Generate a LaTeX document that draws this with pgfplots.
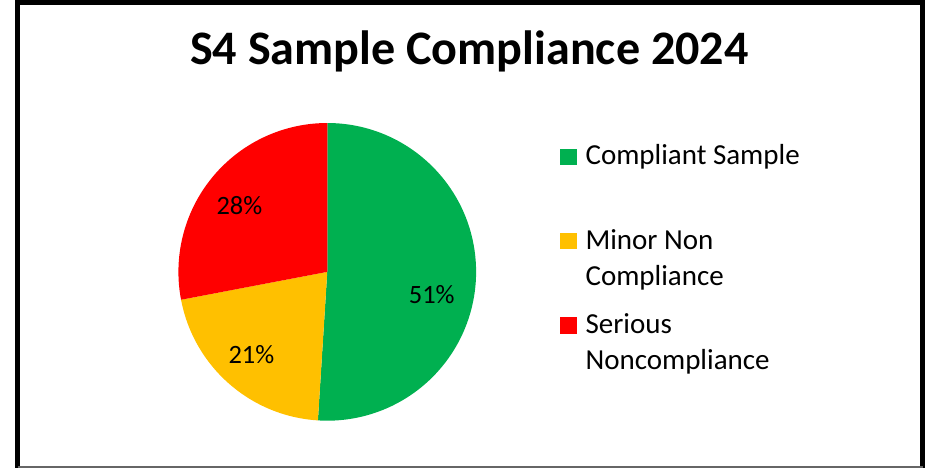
\documentclass[border=0pt]{standalone}
\usepackage{pgfplots}
\usepackage{pgfplotstable}
\pgfplotsset{compat=1.18}
\usepackage{fontspec}
\setmainfont{Carlito}
\definecolor{cgreen}{HTML}{00B050}
\definecolor{cyellow}{HTML}{FFC000}
\definecolor{cred}{HTML}{FF0000}
\pgfplotstableread{
label value
Compliant 51
Minor 21
Serious 28
}\piedata
\begin{document}
\pgfplotstablegetelem{0}{value}\of\piedata\let\va\pgfplotsretval
\pgfplotstablegetelem{1}{value}\of\piedata\let\vb\pgfplotsretval
\pgfplotstablegetelem{2}{value}\of\piedata\let\vc\pgfplotsretval
\pgfmathsetmacro\aA{90}
\pgfmathsetmacro\aB{90-3.6*\va}
\pgfmathsetmacro\aC{\aB-3.6*\vb}
\pgfmathsetmacro\aD{\aC-3.6*\vc}
\def\R{111.4pt}
\begin{tikzpicture}
\begin{axis}[scale only axis, width=693.75pt, height=352.5pt,
  xmin=0, xmax=925, ymin=-470, ymax=0, hide axis, clip=false]
% pie
\fill[cgreen] (axis cs:326.5,-273.5) -- ++(\aA:\R) arc[start angle=\aA, end angle=\aB, radius=\R] -- cycle;
\fill[cyellow] (axis cs:326.5,-273.5) -- ++(\aB:\R) arc[start angle=\aB, end angle=\aC, radius=\R] -- cycle;
\fill[cred] (axis cs:326.5,-273.5) -- ++(\aC:\R) arc[start angle=\aC, end angle=\aD, radius=\R] -- cycle;
% data labels
\node[anchor=base, inner sep=0pt, font=\fontsize{19.8}{23}\selectfont] at (axis cs:430.8,-305) {\va\%};
\node[anchor=base, inner sep=0pt, font=\fontsize{19.8}{23}\selectfont] at (axis cs:250.8,-365) {\vb\%};
\node[anchor=base, inner sep=0pt, font=\fontsize{19.8}{23}\selectfont] at (axis cs:238.8,-216) {\vc\%};
% title
\node[anchor=base, inner sep=0pt, font=\fontsize{36}{40}\selectfont\bfseries] at (axis cs:468.3,-66.7) {S4 Sample Compliance 2024};
% legend
\fill[cgreen] (axis cs:559,-150.5) rectangle (axis cs:575.7,-167);
\fill[cyellow] (axis cs:559,-234.3) rectangle (axis cs:575.7,-250.8);
\fill[cred] (axis cs:559,-319) rectangle (axis cs:575.7,-335.5);
\begin{scope}[every node/.style={anchor=base west, inner sep=0pt, font=\fontsize{21.7}{25}\selectfont}]
\node at (axis cs:584,-166.7) {Compliant Sample};
\node at (axis cs:584,-250.7) {Minor Non};
\node at (axis cs:584,-286.7) {Compliance};
\node at (axis cs:584,-335) {Serious};
\node at (axis cs:584,-370.7) {Noncompliance};
\end{scope}
% frame
\draw[black, line width=3.75pt] (axis cs:17.5,-469) -- (axis cs:17.5,-4.7) -- (axis cs:920.5,-4.7) -- (axis cs:920.5,-469);
\draw[black!60, line width=1pt] (axis cs:17.5,-468.3) -- (axis cs:920.5,-468.3);
\end{axis}
\end{tikzpicture}
\end{document}
